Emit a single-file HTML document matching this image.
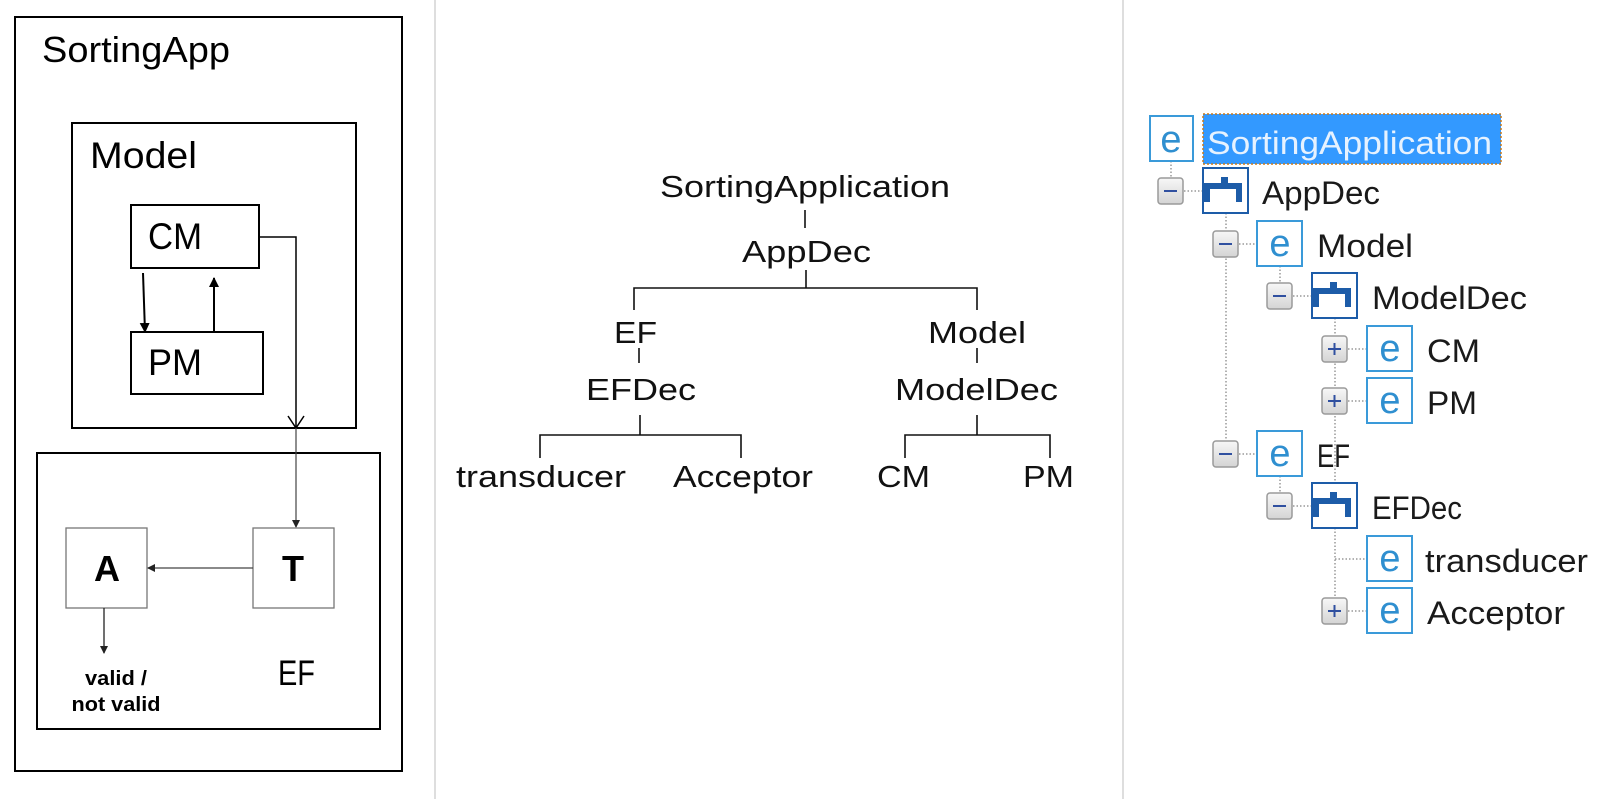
<!DOCTYPE html>
<html><head><meta charset="utf-8"><style>
html,body{margin:0;padding:0;background:#fff;}
svg{display:block;}
</style></head><body>
<svg width="1621" height="799" viewBox="0 0 1621 799" xmlns="http://www.w3.org/2000/svg" font-family="Liberation Sans, Arial, sans-serif">
<defs>
<marker id="ah" markerWidth="10" markerHeight="10" refX="9" refY="5" orient="auto" markerUnits="userSpaceOnUse"><path d="M0,0 L10,5 L0,10 z" fill="#000"/></marker>
<marker id="ahs" markerWidth="8" markerHeight="8" refX="7" refY="4" orient="auto" markerUnits="userSpaceOnUse"><path d="M0,0 L8,4 L0,8 z" fill="#222"/></marker>
<linearGradient id="exg" x1="0" y1="0" x2="0" y2="1"><stop offset="0" stop-color="#f7f7f7"/><stop offset="1" stop-color="#d4d4d4"/></linearGradient>
</defs>

<!-- dividers -->
<line x1="435" y1="0" x2="435" y2="799" stroke="#dedede" stroke-width="2"/>
<line x1="1123" y1="0" x2="1123" y2="799" stroke="#dedede" stroke-width="2"/>

<!-- LEFT PANEL -->
<rect x="15" y="17" width="387" height="754" fill="none" stroke="#000" stroke-width="2"/>
<text x="42" y="62" font-size="36" textLength="188" lengthAdjust="spacingAndGlyphs">SortingApp</text>
<rect x="72" y="123" width="284" height="305" fill="none" stroke="#000" stroke-width="2"/>
<text x="90" y="168" font-size="37" textLength="107" lengthAdjust="spacingAndGlyphs">Model</text>
<rect x="131" y="205" width="128" height="63" fill="#fff" stroke="#000" stroke-width="2"/>
<text x="148" y="249" font-size="37" textLength="54" lengthAdjust="spacingAndGlyphs">CM</text>
<rect x="131" y="332" width="132" height="62" fill="#fff" stroke="#000" stroke-width="2"/>
<text x="148" y="375" font-size="37" textLength="54" lengthAdjust="spacingAndGlyphs">PM</text>
<line x1="143" y1="273" x2="145" y2="332" stroke="#000" stroke-width="2" marker-end="url(#ah)"/>
<line x1="214" y1="332" x2="214" y2="278" stroke="#000" stroke-width="2" marker-end="url(#ah)"/>
<polyline points="259,237 296,237 296,428" fill="none" stroke="#000" stroke-width="1.5"/>
<polyline points="288,416 296,428 304,416" fill="none" stroke="#000" stroke-width="1.5"/>
<rect x="37" y="453" width="343" height="276" fill="none" stroke="#000" stroke-width="2"/>
<line x1="296" y1="428" x2="296" y2="527" stroke="#444" stroke-width="1.2" marker-end="url(#ahs)"/>
<rect x="66" y="528" width="81" height="80" fill="#fff" stroke="#777" stroke-width="1.3"/>
<rect x="253" y="528" width="81" height="80" fill="#fff" stroke="#777" stroke-width="1.3"/>
<text x="107" y="581" font-size="36" font-weight="bold" text-anchor="middle">A</text>
<text x="293" y="581" font-size="36" font-weight="bold" text-anchor="middle">T</text>
<line x1="253" y1="568" x2="148" y2="568" stroke="#444" stroke-width="1.2" marker-end="url(#ahs)"/>
<line x1="104" y1="608" x2="104" y2="653" stroke="#222" stroke-width="1.3" marker-end="url(#ahs)"/>
<text x="116" y="685" font-size="20" font-weight="bold" text-anchor="middle" textLength="62" lengthAdjust="spacingAndGlyphs">valid /</text>
<text x="116" y="711" font-size="20" font-weight="bold" text-anchor="middle" textLength="89" lengthAdjust="spacingAndGlyphs">not valid</text>
<text x="278" y="685" font-size="35" textLength="37" lengthAdjust="spacingAndGlyphs">EF</text>

<!-- MIDDLE TREE -->
<g font-size="31" fill="#111">
<text x="660" y="197" textLength="290" lengthAdjust="spacingAndGlyphs">SortingApplication</text>
<text x="742" y="262" textLength="129" lengthAdjust="spacingAndGlyphs">AppDec</text>
<text x="614" y="343" textLength="43" lengthAdjust="spacingAndGlyphs">EF</text>
<text x="928" y="343" textLength="98" lengthAdjust="spacingAndGlyphs">Model</text>
<text x="586" y="400" textLength="110" lengthAdjust="spacingAndGlyphs">EFDec</text>
<text x="895" y="400" textLength="163" lengthAdjust="spacingAndGlyphs">ModelDec</text>
<text x="456" y="487" textLength="170" lengthAdjust="spacingAndGlyphs">transducer</text>
<text x="673" y="487" textLength="140" lengthAdjust="spacingAndGlyphs">Acceptor</text>
<text x="877" y="487" textLength="53" lengthAdjust="spacingAndGlyphs">CM</text>
<text x="1023" y="487" textLength="51" lengthAdjust="spacingAndGlyphs">PM</text>
</g>
<g stroke="#111" stroke-width="1.6" fill="none">
<line x1="805" y1="210" x2="805" y2="228"/>
<line x1="806" y1="270" x2="806" y2="288"/>
<polyline points="634,310 634,288 977,288 977,310"/>
<line x1="639" y1="348" x2="639" y2="363"/>
<line x1="977" y1="348" x2="977" y2="363"/>
<line x1="640" y1="415" x2="640" y2="435"/>
<polyline points="540,458 540,435 741,435 741,458"/>
<line x1="977" y1="415" x2="977" y2="435"/>
<polyline points="905,458 905,435 1050,435 1050,458"/>
</g>

<!-- RIGHT TREE -->
<g stroke="#999" stroke-width="1.5" stroke-dasharray="1.5,2" fill="none">
<line x1="1171" y1="161" x2="1171" y2="178"/>
<line x1="1184" y1="191" x2="1203" y2="191"/>
<line x1="1226" y1="213" x2="1226" y2="441"/>
<line x1="1239" y1="244" x2="1257" y2="244"/>
<line x1="1280" y1="266" x2="1280" y2="284"/>
<line x1="1293" y1="296" x2="1312" y2="296"/>
<line x1="1335" y1="318" x2="1335" y2="599"/>
<line x1="1348" y1="349" x2="1367" y2="349"/>
<line x1="1348" y1="401" x2="1367" y2="401"/>
<line x1="1239" y1="454" x2="1257" y2="454"/>
<line x1="1280" y1="476" x2="1280" y2="494"/>
<line x1="1293" y1="506" x2="1312" y2="506"/>
<line x1="1335" y1="559" x2="1367" y2="559"/>
<line x1="1348" y1="611" x2="1367" y2="611"/>
</g>

<!-- selection -->
<rect x="1203" y="114" width="298" height="50" fill="#3399ff" stroke="#c87a1e" stroke-width="1.5" stroke-dasharray="2,2"/>
<text x="1207" y="154" font-size="32" fill="#e6f2ff" textLength="285" lengthAdjust="spacingAndGlyphs">SortingApplication</text>

<!-- root e icon -->
<rect x="1150" y="116" width="43" height="45" fill="#fff" stroke="#3a9ad9" stroke-width="2"/>
<text x="1171" y="152" font-size="38" fill="#2f8fd0" text-anchor="middle">e</text>

<!-- expanders: cx, cy, sign -->
<g>
<rect x="1158" y="178" width="25" height="26" rx="3" fill="url(#exg)" stroke="#9a9a9a" stroke-width="1.5"/><line x1="1164" y1="191" x2="1177" y2="191" stroke="#3050a0" stroke-width="2"/>
<rect x="1213" y="231" width="25" height="26" rx="3" fill="url(#exg)" stroke="#9a9a9a" stroke-width="1.5"/><line x1="1219" y1="244" x2="1232" y2="244" stroke="#3050a0" stroke-width="2"/>
<rect x="1267" y="283" width="25" height="26" rx="3" fill="url(#exg)" stroke="#9a9a9a" stroke-width="1.5"/><line x1="1273" y1="296" x2="1286" y2="296" stroke="#3050a0" stroke-width="2"/>
<rect x="1322" y="336" width="25" height="26" rx="3" fill="url(#exg)" stroke="#9a9a9a" stroke-width="1.5"/><line x1="1328" y1="349" x2="1341" y2="349" stroke="#3050a0" stroke-width="2"/><line x1="1334.5" y1="343" x2="1334.5" y2="355" stroke="#3050a0" stroke-width="2"/>
<rect x="1322" y="388" width="25" height="26" rx="3" fill="url(#exg)" stroke="#9a9a9a" stroke-width="1.5"/><line x1="1328" y1="401" x2="1341" y2="401" stroke="#3050a0" stroke-width="2"/><line x1="1334.5" y1="395" x2="1334.5" y2="407" stroke="#3050a0" stroke-width="2"/>
<rect x="1213" y="441" width="25" height="26" rx="3" fill="url(#exg)" stroke="#9a9a9a" stroke-width="1.5"/><line x1="1219" y1="454" x2="1232" y2="454" stroke="#3050a0" stroke-width="2"/>
<rect x="1267" y="493" width="25" height="26" rx="3" fill="url(#exg)" stroke="#9a9a9a" stroke-width="1.5"/><line x1="1273" y1="506" x2="1286" y2="506" stroke="#3050a0" stroke-width="2"/>
<rect x="1322" y="598" width="25" height="26" rx="3" fill="url(#exg)" stroke="#9a9a9a" stroke-width="1.5"/><line x1="1328" y1="611" x2="1341" y2="611" stroke="#3050a0" stroke-width="2"/><line x1="1334.5" y1="605" x2="1334.5" y2="617" stroke="#3050a0" stroke-width="2"/>
</g>

<!-- sequence icons -->
<g>
<rect x="1203" y="168" width="45" height="45" fill="#fff" stroke="#1d5ca8" stroke-width="2"/>
<path d="M1221,177 h7 v6 h14 v19 h-6 v-13 h-26 v13 h-6 v-19 h17 z" fill="#1d5ca8"/>
<rect x="1312" y="273" width="45" height="45" fill="#fff" stroke="#1d5ca8" stroke-width="2"/>
<path d="M1330,282 h7 v6 h14 v19 h-6 v-13 h-26 v13 h-6 v-19 h17 z" fill="#1d5ca8"/>
<rect x="1312" y="483" width="45" height="45" fill="#fff" stroke="#1d5ca8" stroke-width="2"/>
<path d="M1330,492 h7 v6 h14 v19 h-6 v-13 h-26 v13 h-6 v-19 h17 z" fill="#1d5ca8"/>
</g>

<!-- e icons -->
<g font-size="38" fill="#2f8fd0" text-anchor="middle">
<rect x="1257" y="221" width="45" height="45" fill="#fff" stroke="#3a9ad9" stroke-width="2"/><text x="1280" y="256">e</text>
<rect x="1367" y="326" width="45" height="45" fill="#fff" stroke="#3a9ad9" stroke-width="2"/><text x="1390" y="361">e</text>
<rect x="1367" y="378" width="45" height="45" fill="#fff" stroke="#3a9ad9" stroke-width="2"/><text x="1390" y="413">e</text>
<rect x="1257" y="431" width="45" height="45" fill="#fff" stroke="#3a9ad9" stroke-width="2"/><text x="1280" y="466">e</text>
<rect x="1367" y="536" width="45" height="45" fill="#fff" stroke="#3a9ad9" stroke-width="2"/><text x="1390" y="571">e</text>
<rect x="1367" y="588" width="45" height="45" fill="#fff" stroke="#3a9ad9" stroke-width="2"/><text x="1390" y="623">e</text>
</g>

<!-- labels -->
<g font-size="32" fill="#1a1a1a">
<text x="1262" y="204" textLength="118" lengthAdjust="spacingAndGlyphs">AppDec</text>
<text x="1317" y="257" textLength="96" lengthAdjust="spacingAndGlyphs">Model</text>
<text x="1372" y="309" textLength="155" lengthAdjust="spacingAndGlyphs">ModelDec</text>
<text x="1427" y="362" textLength="53" lengthAdjust="spacingAndGlyphs">CM</text>
<text x="1427" y="414" textLength="50" lengthAdjust="spacingAndGlyphs">PM</text>
<text x="1317" y="467" textLength="33" lengthAdjust="spacingAndGlyphs">EF</text>
<text x="1372" y="519" textLength="90" lengthAdjust="spacingAndGlyphs">EFDec</text>
<text x="1425" y="572" textLength="163" lengthAdjust="spacingAndGlyphs">transducer</text>
<text x="1427" y="624" textLength="138" lengthAdjust="spacingAndGlyphs">Acceptor</text>
</g>
</svg>
</body></html>
